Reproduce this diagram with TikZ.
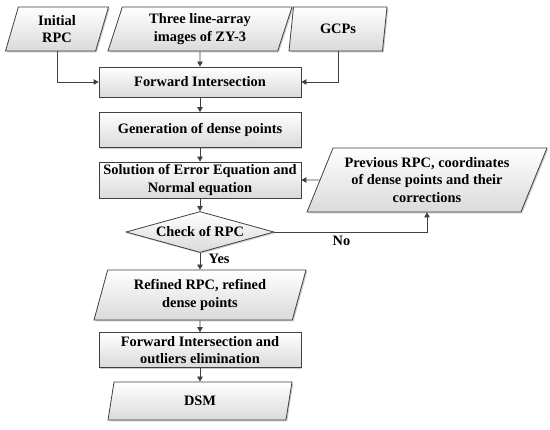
\documentclass[tikz,border=0pt]{standalone}
\usepackage{fontspec}
\setmainfont{Liberation Serif}
\usetikzlibrary{shapes.geometric,shadows,arrows.meta}

\definecolor{borda}{HTML}{404040}
\definecolor{fundo}{HTML}{DADADA}
\newcommand{\fonte}{\fontsize{14.4}{17.5}\selectfont\bfseries}

\tikzset{
	sombra/.style={drop shadow={shadow xshift=1.3pt, shadow yshift=-1.3pt, fill=gray!80, opacity=0.5}},
	caixa/.style={rectangle, draw=borda, line width=0.8pt, top color=white, bottom color=fundo,
		sombra, align=center, font=\fonte, minimum width=202pt, inner xsep=1pt, inner ysep=0pt},
	dados/.style={trapezium, trapezium left angle=#1, trapezium right angle={180-#1},
		trapezium stretches body, draw=borda, line width=0.8pt, top color=white, bottom color=fundo,
		sombra, align=center, font=\fonte, inner xsep=1pt, inner ysep=0pt},
	teste/.style={diamond, aspect=3.6, draw=borda, line width=0.8pt, top color=white, bottom color=fundo,
		sombra, font=\fonte, inner sep=0pt, minimum width=148pt, minimum height=41pt},
	seta/.style={draw=borda, line width=0.8pt, -{Triangle[length=5pt,width=5.5pt]}},
	rotulo/.style={font=\fonte, text=black}
}

\begin{document}
\begin{tikzpicture}[x=1pt, y=-1pt]
\useasboundingbox (0,0) rectangle (550,430);

% Entradas
	\node[dados=65, minimum width=103pt, minimum height=44pt] (rpc) at (57,29) {Initial\\RPC};
	\node[dados=65, minimum width=184pt, minimum height=44pt] (imgs) at (200,29) {Three line-array\\images of ZY-3};
	\node[dados=65, minimum width=98pt, minimum height=44pt] (gcp) at (338,29) {GCPs};

% Processamento
	\node[caixa, minimum height=30pt] (fi) at (200,82) {Forward Intersection};
	\node[caixa, minimum height=35pt] (gen) at (200,130) {Generation of dense points};
	\node[caixa, minimum height=36pt] (sol) at (200,180) {Solution of Error Equation and\\Normal equation};
	\node[teste] (chk) at (200,232) {Check of RPC};
	\node[dados=60, minimum width=240pt, minimum height=64pt] (prev) at (427,180)
		{Previous RPC, coordinates\\of dense points and their\\corrections};
	\node[dados=66, minimum width=212pt, minimum height=50pt] (ref) at (200,295)
		{Refined RPC, refined\\dense points};
	\node[caixa, minimum height=35pt] (fiout) at (200,350) {Forward Intersection and\\outliers elimination};
	\node[dados=58, minimum width=184pt, minimum height=38pt] (dsm) at (200,401) {DSM};

% Ligacoes
	\draw[seta] (rpc) |- (fi.west);
	\draw[seta] (gcp) |- (fi.east);
	\draw[seta] (imgs) -- (fi);
	\foreach \a/\b in {fi/gen, gen/sol, sol/chk, ref/fiout, fiout/dsm}
		\draw[seta] (\a) -- (\b);
	\draw[seta] (prev) -- (sol);
	\draw[seta] (chk) -| node[rotulo, pos=0.22, below] {No} (prev);
	\draw[seta] (chk) -- node[rotulo, pos=0.35, right=5pt] {Yes} (ref);
\end{tikzpicture}
\end{document}
